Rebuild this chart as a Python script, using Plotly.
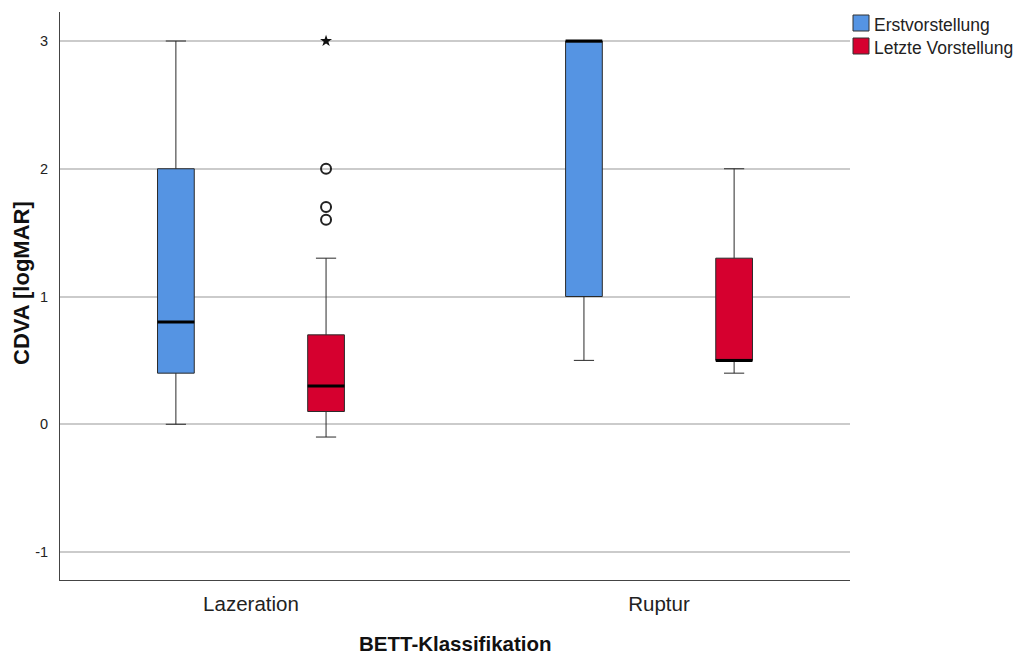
import plotly.graph_objects as go

# Categories and series
categories = ["Lazeration", "Ruptur"]
series_names = ["Erstvorstellung", "Letzte Vorstellung"]
series_colors = ["#5594e3", "#d6002f"]
y_ticks = [-1, 0, 1, 2, 3]
y_tick_labels = ["-1", "0", "1", "2", "3"]

# Box statistics per series, one entry per category
erst_lower = [0.0, 0.5]
erst_q1 = [0.4, 1.0]
erst_median = [0.8, 3.0]
erst_q3 = [2.0, 3.0]
erst_upper = [3.0, 3.0]

letzte_lower = [-0.1, 0.4]
letzte_q1 = [0.1, 0.5]
letzte_median = [0.3, 0.5]
letzte_q3 = [0.7, 1.3]
letzte_upper = [1.3, 2.0]

# Outliers (circles) and extreme values (stars) for Letzte Vorstellung / Lazeration
outlier_values = [2.0, 1.7, 1.6]
extreme_values = [3.0]

stats = [
    dict(lower=erst_lower, q1=erst_q1, median=erst_median, q3=erst_q3, upper=erst_upper),
    dict(lower=letzte_lower, q1=letzte_q1, median=letzte_median, q3=letzte_q3, upper=letzte_upper),
]

W, H = 1016, 655
ML, MR, MT, MB = 60, 166, 12, 75
PW, PH = W - ML - MR, H - MT - MB


def px_x(px):
    return (px - ML) / PW


def px_y(py):
    return 1 - (py - MT) / PH


offset = 0.184
box_w = 0.09
offsets = [-offset, offset]

fig = go.Figure()
for s, (name, color, st) in enumerate(zip(series_names, series_colors, stats)):
    xs = [i + offsets[s] for i in range(len(categories))]
    fig.add_trace(go.Box(
        x=xs, q1=st["q1"], median=st["median"], q3=st["q3"],
        lowerfence=st["lower"], upperfence=st["upper"],
        name=name, fillcolor=color, width=box_w, whiskerwidth=0.55,
        line=dict(color="#2a2a2a", width=1), boxpoints=False,
        hoverinfo="skip", showlegend=False,
    ))
    # thick median bars
    for x, m in zip(xs, st["median"]):
        fig.add_trace(go.Scatter(
            x=[x - box_w / 2, x + box_w / 2], y=[m, m], mode="lines",
            line=dict(color="black", width=3), showlegend=False, hoverinfo="skip",
        ))

x_letzte_laz = 0 + offsets[1]
fig.add_trace(go.Scatter(
    x=[x_letzte_laz] * len(outlier_values), y=outlier_values, mode="markers",
    marker=dict(symbol="circle-open", size=10, color="#222", line=dict(width=2)),
    showlegend=False, hoverinfo="skip",
))
fig.add_trace(go.Scatter(
    x=[x_letzte_laz] * len(extreme_values), y=extreme_values, mode="markers",
    marker=dict(symbol="star", size=9, color="#111", line=dict(width=0)),
    showlegend=False, hoverinfo="skip",
))

# legend: square swatches with labels, top right outside the plot
shapes, annotations = [], []
for k, (name, color) in enumerate(zip(series_names, series_colors)):
    cy = 23 + 23 * k
    shapes.append(dict(
        type="rect", xref="paper", yref="paper",
        x0=px_x(853), x1=px_x(869), y0=px_y(cy + 8), y1=px_y(cy - 8),
        fillcolor=color, line=dict(color="#333", width=1),
    ))
    annotations.append(dict(
        text=name, xref="paper", yref="paper", x=px_x(872), y=px_y(cy + 2),
        xanchor="left", yanchor="middle", showarrow=False,
        font=dict(size=17.5, color="#222"),
    ))

# axis titles
annotations.append(dict(
    text="<b>BETT-Klassifikation</b>", xref="paper", yref="paper",
    x=px_x(455), y=px_y(643), xanchor="center", yanchor="middle", showarrow=False,
    font=dict(size=20.5, color="#111"),
))
annotations.append(dict(
    text="<b>CDVA [logMAR]</b>", xref="paper", yref="paper", textangle=-90,
    x=px_x(21), y=px_y(283), xanchor="center", yanchor="middle", showarrow=False,
    font=dict(size=22, color="#111"),
))

fig.update_layout(
    width=W, height=H,
    margin=dict(l=ML, r=MR, t=MT, b=MB, autoexpand=False),
    paper_bgcolor="white", plot_bgcolor="white",
    font=dict(family="Liberation Sans, Arial, sans-serif", color="#222"),
    showlegend=False,
    shapes=shapes, annotations=annotations,
    xaxis=dict(
        range=[-0.468, 1.468], tickvals=list(range(len(categories))), ticktext=categories,
        showgrid=False, zeroline=False, showline=True, linecolor="#444", linewidth=1,
        ticks="", ticklabelstandoff=5, tickfont=dict(size=20.5, color="#222"),
        automargin=False,
    ),
    yaxis=dict(
        range=[-1.219, 3.227], tickvals=y_ticks, ticktext=y_tick_labels,
        showgrid=True, gridcolor="#cbcbcb", gridwidth=1.5, zeroline=False,
        showline=True, linecolor="#444", linewidth=1, ticks="",
        tickfont=dict(size=14.5, color="#222"), ticklabelstandoff=8,
        automargin=False,
    ),
)

fig.write_html("out.html")
